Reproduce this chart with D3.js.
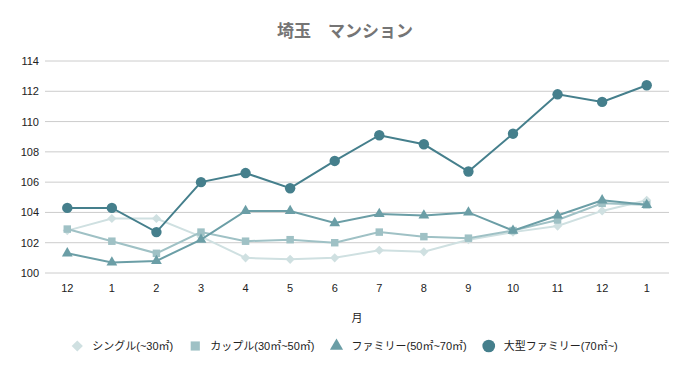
<!DOCTYPE html>
<html><head><meta charset="utf-8">
<script src="https://cdn.jsdelivr.net/npm/d3@7"></script>
<style>body{margin:0;background:#fff;}svg{display:block;font-family:"Liberation Sans","Noto Sans CJK JP",sans-serif;}</style>
</head><body><svg id="c" width="688" height="371"></svg>
<script>
const categories = ["12","1","2","3","4","5","6","7","8","9","10","11","12","1"];
const single = [102.8,103.6,103.6,102.4,101.0,100.9,101.0,101.5,101.4,102.2,102.7,103.1,104.1,104.8];
const couple = [102.9,102.1,101.3,102.7,102.1,102.2,102.0,102.7,102.4,102.3,102.8,103.5,104.6,104.5];
const family = [101.3,100.7,100.8,102.2,104.1,104.1,103.3,103.9,103.8,104.0,102.8,103.8,104.8,104.5];
const largeFamily = [104.3,104.3,102.7,106.0,106.6,105.6,107.4,109.1,108.5,106.7,109.2,111.8,111.3,112.4];
const yTicks = [100,102,104,106,108,110,112,114];
const seriesNames = ["シングル(~30㎡)","カップル(30㎡~50㎡)","ファミリー(50㎡~70㎡)","大型ファミリー(70㎡~)"];

const series = [
  {name: seriesNames[0], values: single, color: "#cfe0e1", sym: d3.symbolSquare, rot: 45, size: 42},
  {name: seriesNames[1], values: couple, color: "#9fc1c5", sym: d3.symbolSquare, rot: 0, size: 56},
  {name: seriesNames[2], values: family, color: "#6b9ea6", sym: d3.symbolTriangle, rot: 0, size: 50},
  {name: seriesNames[3], values: largeFamily, color: "#457f8c", sym: d3.symbolCircle, rot: 0, size: 85}
];

const svg = d3.select("#c");
const x = d3.scaleBand().domain(d3.range(categories.length)).range([45, 669]);
const y = d3.scaleLinear().domain([100,114]).range([273, 61]);

svg.append("text").attr("x", 345).attr("y", 37).attr("text-anchor","middle")
  .attr("font-size", 17).attr("font-weight","bold").attr("fill","#757575")
  .attr("font-family","'Noto Sans CJK JP',sans-serif").text("埼玉　マンション");

svg.append("g").selectAll("line").data(yTicks).join("line")
  .attr("x1", 45).attr("x2", 669).attr("y1", d=>y(d)).attr("y2", d=>y(d))
  .attr("stroke", "#cccccc").attr("stroke-width", 1);

const yAxis = svg.append("g").attr("transform","translate(39,0)")
  .call(d3.axisLeft(y).tickValues(yTicks).tickSize(0).tickPadding(0));
yAxis.select(".domain").remove();
yAxis.selectAll("text").attr("font-size", 11).attr("fill","#222").attr("font-family","'Liberation Sans',sans-serif");

const xAxis = svg.append("g").attr("transform","translate(0,281)")
  .call(d3.axisBottom(x).tickFormat(i=>categories[i]).tickSize(0).tickPadding(3));
xAxis.select(".domain").remove();
xAxis.selectAll("text").attr("font-size", 11).attr("fill","#222").attr("font-family","'Liberation Sans',sans-serif");

svg.append("text").attr("x", 357).attr("y", 322).attr("text-anchor","middle")
  .attr("font-size", 11).attr("fill","#222").attr("font-family","'Noto Sans CJK JP',sans-serif").text("月");

const cx = i => x(i) + x.bandwidth()/2;
const line = d3.line().x((d,i)=>cx(i)).y(d=>y(d));

series.forEach(s => {
  const g = svg.append("g");
  g.append("path").datum(s.values).attr("d", line).attr("fill","none")
    .attr("stroke", s.color).attr("stroke-width", 2);
  g.selectAll("path.m").data(s.values).join("path").attr("class","m")
    .attr("transform",(d,i)=>`translate(${cx(i)},${y(d)}) rotate(${s.rot})`)
    .attr("d", d3.symbol().type(s.sym).size(s.size)).attr("fill", s.color);
});

// legend, centred, laid out from measured text widths
const leg = svg.append("g");
const items = series.map(s => {
  const g = leg.append("g");
  g.append("path").attr("transform",`rotate(${s.rot})`)
    .attr("d", d3.symbol().type(s.sym).size(s.size*1.5)).attr("fill", s.color);
  const t = g.append("text").attr("x", 15).attr("y", 4).attr("font-size", 11)
    .attr("fill","#222").text(s.name);
  return {g, w: 15 + t.node().getComputedTextLength()};
});
const gap = 22;
const total = d3.sum(items, d=>d.w) + gap*(items.length-1) + 5;
let lx = 345 - total/2 + 5;
items.forEach(it => { it.g.attr("transform",`translate(${lx},346)`); lx += it.w + gap; });
</script></body></html>
